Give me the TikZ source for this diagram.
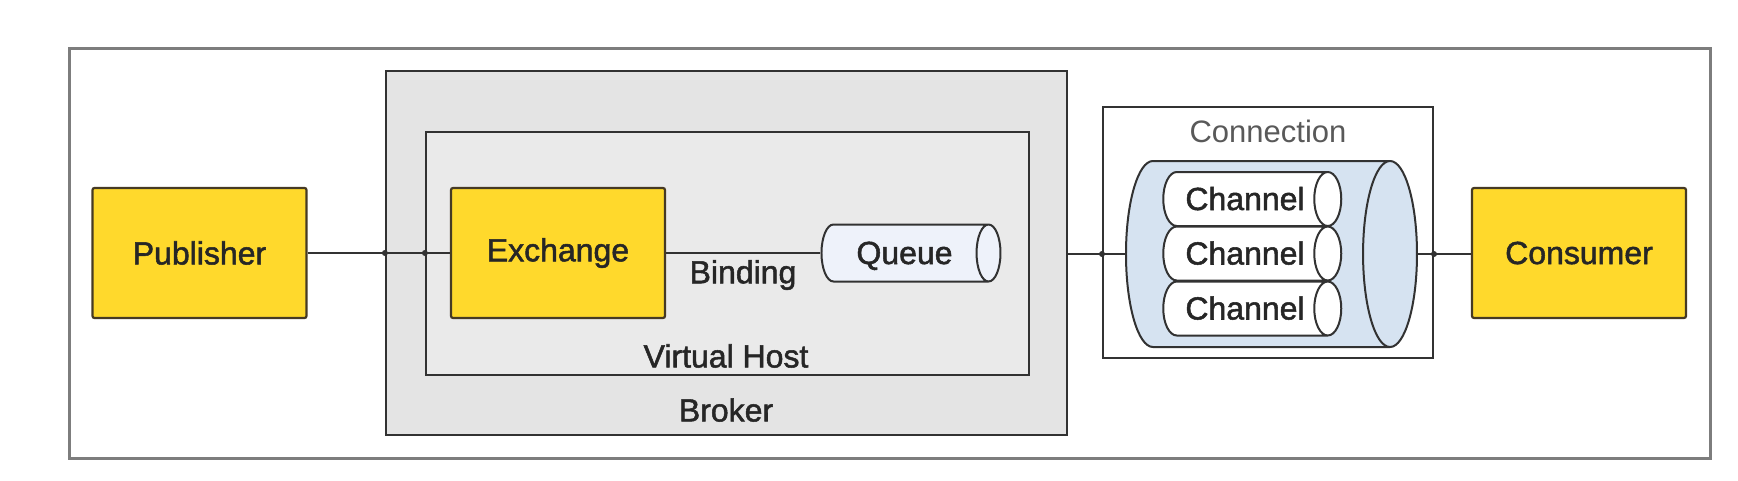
\documentclass[tikz,border=0pt]{standalone}
\usepackage{fontspec}
\setmainfont{Liberation Sans}[FakeBold=1.6]
\newfontfamily\plainsans{Liberation Sans}
\usepackage{tikz}
\usetikzlibrary{shapes,positioning,calc}
\definecolor{boxyellow}{RGB}{255,217,44}
\definecolor{actorborder}{RGB}{70,58,36}
\definecolor{brokergray}{RGB}{228,228,228}
\definecolor{hostgray}{RGB}{234,234,234}
\definecolor{framegray}{RGB}{125,125,125}
\definecolor{linegray}{RGB}{50,50,50}
\definecolor{pipeblue}{RGB}{214,227,241}
\definecolor{queueblue}{RGB}{238,242,250}
\tikzstyle{edge}    =[line width=1.8pt, draw=linegray]
\tikzstyle{actor}   =[rectangle, draw=actorborder, fill=boxyellow,
                      line width=2.2pt, minimum width=214pt,
                      minimum height=130pt, rounded corners=2pt]
\tikzstyle{area}    =[rectangle, draw=linegray, line width=2.2pt]
\tikzstyle{pipe}    =[cylinder, draw=linegray, line width=2pt,
                      inner sep=0pt, cylinder uses custom fill]
\tikzstyle{channel} =[pipe, cylinder body fill=white, cylinder end fill=white,
                      aspect=0.5, minimum height=178pt]
\tikzstyle{junction}=[circle, fill=linegray, minimum size=6pt,
                      inner sep=0pt]

\begin{document}
\begin{tikzpicture}[x=1pt, y=-1pt,
            every node/.style={font=\fontsize{32}{36}\selectfont, text=black!85}]
                \useasboundingbox (0,0) rectangle (1738,480);
                \node[area, draw=framegray, line width=3pt, minimum width=1641pt,
                      minimum height=410pt] (outer) at (889.5,253) {};
                \node[area, fill=brokergray, minimum width=681pt,
                      minimum height=364pt] (broker) at (726.5,253) {};
                \node[area, fill=hostgray, minimum width=603pt,
                      minimum height=243pt] (vhost) at (727.5,253.5) {};
                \node[area, fill=white, line width=2pt, minimum width=330pt,
                      minimum height=251pt] (conn) at (1268,232.5) {};

                \node[actor] (publisher) at (199.5,253) {Publisher};
                \node[actor] (exchange) at (558,253) {Exchange};
                \node[actor] (consumer) at (1579,253) {Consumer};
                \node[pipe, cylinder body fill=queueblue, cylinder end fill=queueblue,
                      aspect=0.42, minimum height=179pt]
                      (queue) at (904.5,253) {\rule[-17.5pt]{0pt}{57pt}Queue\hspace{12pt}};

                \node (binding) at (743,275) {Binding};
                \node (hostlabel) at (726,356) {Virtual Host};
                \node (brokerlabel) at (726,410) {Broker};
                \node[font=\plainsans\fontsize{31}{36}\selectfont, text=black!65] (connlabel)
                      at (1268,131) {Connection};

                \node[pipe, cylinder body fill=pipeblue, cylinder end fill=pipeblue,
                      aspect=0.29, minimum height=291pt]
                      (link) at (1257.5,254) {\rule[-93pt]{0pt}{186pt}};
                \node[channel] (chan1) at (1245,199) {\rule[-16pt]{0pt}{54pt}Channel\hspace{12pt}};
                \node[channel] (chan2) at (1245,253.5) {\rule[-16pt]{0pt}{54pt}Channel\hspace{12pt}};
                \node[channel] (chan3) at (1245,308.5) {\rule[-16pt]{0pt}{54pt}Channel\hspace{12pt}};

                \draw[edge] (publisher) to (exchange);
                \draw[edge] (exchange) to (queue);
                \draw[edge] (broker.east |- link.west) to (link.west);
                \draw[edge] (link.east) to (consumer.west |- link.east);

                \node[junction] (j1) at (broker.west) {};
                \node[junction] (j2) at (vhost.west |- publisher.east) {};
                \node[junction] (j3) at (conn.west |- link.west) {};
                \node[junction] (j4) at (conn.east |- link.east) {};
        \end{tikzpicture}
\end{document}
